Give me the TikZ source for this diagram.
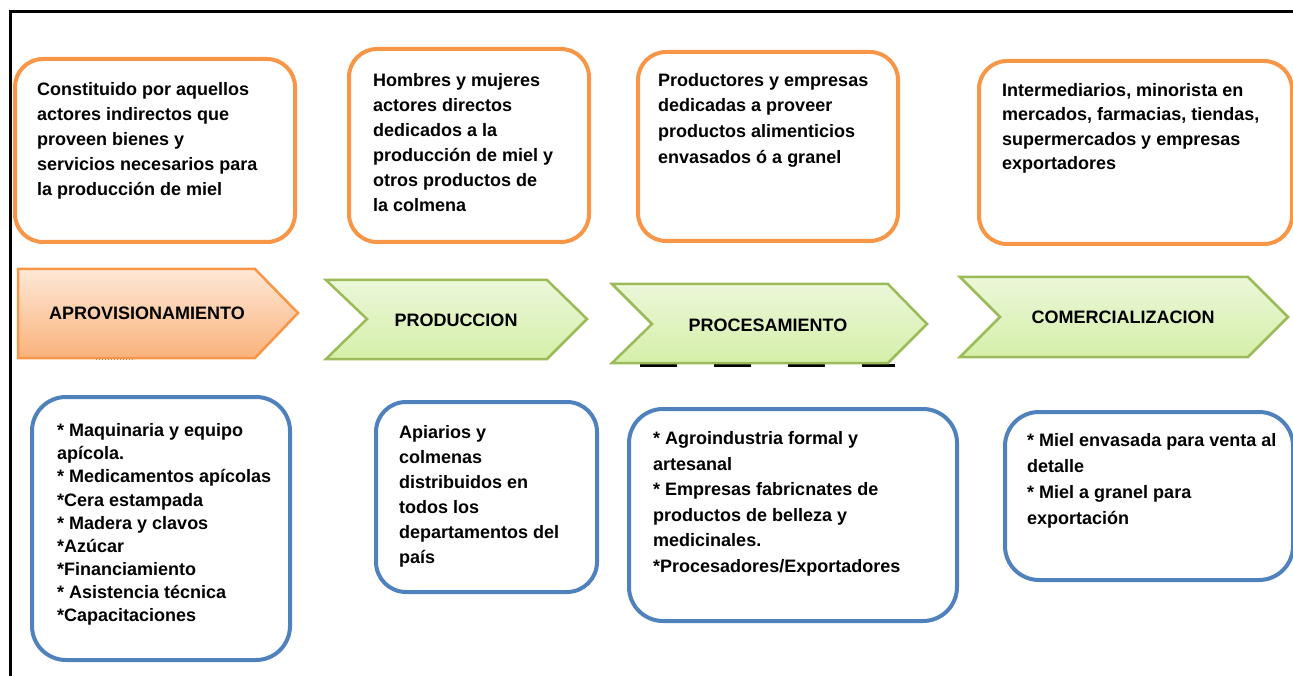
\documentclass[tikz,border=0pt]{standalone}
\usepackage{fontspec}
\setmainfont{Liberation Sans}
\definecolor{orgline}{HTML}{F79646}
\definecolor{blueline}{HTML}{4F81BD}
\definecolor{grnline}{HTML}{9BBB59}
\definecolor{orgtop}{HTML}{FEE8D6}
\definecolor{orgbot}{HTML}{FAB27C}
\definecolor{grntop}{HTML}{EBF7D9}
\definecolor{grnbot}{HTML}{D5EFA9}
\begin{document}
\begin{tikzpicture}[x=1pt,y=-1pt,
  obox/.style={draw=orgline, line width=4pt, rounded corners=28pt, fill=white, inner sep=0pt, anchor=north west},
  bbox/.style={draw=blueline, line width=4pt, rounded corners=34pt, fill=white, inner sep=0pt, anchor=north west},
  txt/.style={anchor=north west, inner sep=0pt, align=left, font=\bfseries\fontsize{18}{25}\selectfont},
  lab/.style={inner sep=0pt, font=\bfseries\fontsize{18}{22}\selectfont},
  orgchev/.style={draw=orgline, line width=2.5pt, top color=orgtop, bottom color=orgbot},
  grnchev/.style={draw=grnline, line width=2.5pt, top color=grntop, bottom color=grnbot},
  shadowline/.style={line width=3pt, black}
]
\useasboundingbox (0,0) rectangle (1293,676);
% frame
\coordinate (fa) at (10,676);
\coordinate (fb) at (10,12);
\coordinate (fc) at (1293,12);
\draw[line width=3pt] (fa) -- (fb) -- (fc);

% top orange boxes
\node[obox, minimum width=280pt, minimum height=183pt] (o1) at (13,57) {};
\node[obox, minimum width=240pt, minimum height=193pt] (o2) at (347,47) {};
\node[obox, minimum width=260pt, minimum height=189pt] (o3) at (636,50) {};
\node[obox, minimum width=313pt, minimum height=183pt] (o4) at (977,59) {};

\node[txt] (t1) at (37,82) {Constituido por aquellos\\actores indirectos que\\proveen bienes y\\servicios necesarios para\\la producción de miel};
\node[txt] (t2) at (373,73) {Hombres y mujeres\\actores directos\\dedicados a la\\producción de miel y\\otros productos de\\la colmena};
\node[txt, font=\bfseries\fontsize{18}{25.7}\selectfont] (t3) at (658,73) {Productores y empresas\\dedicadas a proveer\\productos alimenticios\\envasados ó a granel};
\node[txt, font=\bfseries\fontsize{18}{24.5}\selectfont] (t4) at (1002,83) {Intermediarios, minorista en\\mercados, farmacias, tiendas,\\supermercados y empresas\\exportadores};

% shadow fragments
\coordinate (s1a) at (640,365);
\coordinate (s1b) at (895,365);
\draw[shadowline, dash pattern=on 37pt off 37pt] (s1a) -- (s1b);
\coordinate (s2a) at (96,359);
\coordinate (s2b) at (135,359);
\draw[gray, line width=1pt, dotted] (s2a) -- (s2b);

% chevrons
\path[orgchev] (18,269) -- (255,269) -- (298,313) -- (255,358) -- (18,358) -- cycle;
\path[grnchev] (326,280) -- (547,280) -- (587,319) -- (547,359) -- (326,359) -- (367,319) -- cycle;
\path[grnchev] (612,284) -- (888,284) -- (927,324) -- (888,363) -- (612,363) -- (652,324) -- cycle;
\path[grnchev] (960,277) -- (1248,277) -- (1288,317) -- (1248,357) -- (960,357) -- (1000,317) -- cycle;

\node[lab] (c1) at (147,313) {APROVISIONAMIENTO};
\node[lab] (c2) at (456,320) {PRODUCCION};
\node[lab] (c3) at (768,325) {PROCESAMIENTO};
\node[lab] (c4) at (1123,317) {COMERCIALIZACION};

% bottom blue boxes
\node[bbox, minimum width=258pt, minimum height=263pt] (b1) at (30,395) {};
\node[bbox, rounded corners=30pt, minimum width=221pt, minimum height=190pt] (b2) at (374,400) {};
\node[bbox, minimum width=328pt, minimum height=212pt] (b3) at (627,407) {};
\node[bbox, minimum width=288pt, minimum height=168pt] (b4) at (1003,410) {};

\node[txt, font=\bfseries\fontsize{18}{23.1}\selectfont] (u1) at (57,423.5) {* Maquinaria y equipo\\apícola.\\* Medicamentos apícolas\\*Cera estampada\\* Madera y clavos\\*Azúcar\\*Financiamiento\\* Asistencia técnica\\*Capacitaciones};
\node[txt] (u2) at (399,425.5) {Apiarios y\\colmenas\\distribuidos en\\todos los\\departamentos del\\país};
\node[txt, font=\bfseries\fontsize{18}{25.5}\selectfont] (u3) at (653,431.5) {* Agroindustria formal y\\artesanal\\* Empresas fabricnates de\\productos de belleza y\\medicinales.\\*Procesadores/Exportadores};
\node[txt, font=\bfseries\fontsize{18}{26}\selectfont] (u4) at (1027,433.5) {* Miel envasada para venta al\\detalle\\* Miel a granel para\\exportación};
\end{tikzpicture}
\end{document}
